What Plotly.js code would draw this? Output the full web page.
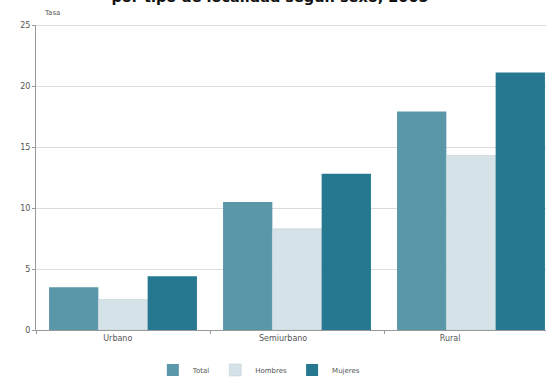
<!DOCTYPE html>
<html><head><meta charset="utf-8">
<script src="https://cdn.plot.ly/plotly-3.0.1.min.js"></script>
<style>html,body{margin:0;padding:0;background:#fff}#c{width:546px;height:383px}</style>
</head><body><div id="c"></div>
<script>
var categories = ["Urbano", "Semiurbano", "Rural"];
var seriesNames = ["Total", "Hombres", "Mujeres"];
var total = [3.5, 10.5, 17.9];
var hombres = [2.5, 8.3, 14.3];
var mujeres = [4.4, 12.8, 21.1];
var yTicks = [0, 5, 10, 15, 20, 25];

var colors = ["#5a97a9", "#d5e2e7", "#25788f"];
var xpos = categories.map(function(c, i){ return i; });
var labelPos = [-0.03, 0.92, 1.88];
var vals = [total, hombres, mujeres];
var font = "DejaVu Sans, sans-serif";

var traces = vals.map(function(v, i){
  return {type: "bar", x: xpos, y: v, name: seriesNames[i],
    marker: {color: colors[i], line: {width: i === 1 ? 0.5 : 0, color: "#b9ccd3"}},
    hoverinfo: "none"};
});
traces.push({type: "scatter", x: [0], y: [0], xaxis: "x2", showlegend: false, mode: "none", hoverinfo: "none"});

var layout = {
  width: 546, height: 383,
  margin: {l: 36, r: 0, t: 25, b: 53},
  paper_bgcolor: "#ffffff", plot_bgcolor: "#ffffff",
  font: {family: font, size: 8, color: "#555"},
  barmode: "group", bargap: 0.15, bargroupgap: 0,
  showlegend: true,
  legend: {orientation: "h", xref: "container", yref: "container", x: 0.475, xanchor: "center",
    y: 0.034, yanchor: "middle",
    font: {size: 7, color: "#555"}, itemwidth: 30, tracegroupgap: 0},
  xaxis: {type: "linear", range: [-0.5, 2.431], tickvals: labelPos, ticktext: categories,
    ticks: "", showgrid: false, zeroline: false, showline: true, linecolor: "#999", linewidth: 1,
    tickfont: {size: 8, color: "#555"}, fixedrange: true, automargin: false},
  xaxis2: {type: "linear", overlaying: "x", range: [-0.5, 2.431], tickvals: [-0.5, 0.5, 1.5],
    ticks: "outside", ticklen: 3, tickcolor: "#999", showticklabels: false, showgrid: false,
    zeroline: false, side: "bottom", anchor: "y"},
  yaxis: {range: [0, 25], tickvals: yTicks, ticks: "outside", ticklen: 3, tickcolor: "#999",
    showgrid: true, gridcolor: "#dcdcdc", gridwidth: 1, zeroline: false, showline: true,
    linecolor: "#999", linewidth: 1, tickfont: {size: 8, color: "#555"}, fixedrange: true, automargin: false},
  annotations: [
    {text: "<b>Tasa de analfabetismo de la población de 15 años y más<br>por tipo de localidad según sexo, 2005</b>",
     xref: "paper", yref: "paper", x: 0.459, y: 1.06, xanchor: "center", yanchor: "bottom",
     showarrow: false, font: {family: font, size: 14.5, color: "#111"}},
    {text: "Tasa", xref: "paper", yref: "paper", x: 0.012, y: 1.04, xanchor: "left", yanchor: "middle",
     showarrow: false, font: {family: font, size: 7, color: "#555"}}
  ],
  shapes: [
    {type: "line", xref: "paper", yref: "y", x0: 0, x1: 1, y0: 25, y1: 25, line: {color: "#bdbdbd", width: 1}}
  ]
};
Plotly.newPlot("c", traces, layout, {staticPlot: true, displayModeBar: false});
</script></body></html>
